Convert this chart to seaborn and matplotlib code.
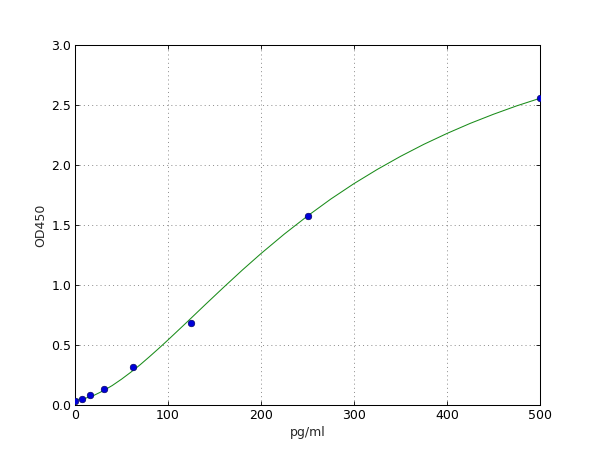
import pandas as pd
import matplotlib
matplotlib.use("Agg")
import matplotlib.pyplot as plt
import seaborn as sns

# standards (pg/ml) and measured OD450
std_conc = [0, 7.8, 15.6, 31.25, 62.5, 125, 250, 500]
std_od = [0.035, 0.048, 0.082, 0.136, 0.318, 0.68, 1.575, 2.556]

# fitted curve
curve_conc = [0, 10, 20, 30, 40, 50, 60, 70, 80, 90, 100, 120, 140, 160, 180,
              200, 225, 250, 275, 300, 325, 350, 375, 400, 425, 450, 475, 500]
curve_od = [0.045, 0.053, 0.079, 0.117, 0.162, 0.215, 0.273, 0.335, 0.402,
            0.471, 0.542, 0.688, 0.836, 0.982, 1.125, 1.262, 1.424, 1.575,
            1.716, 1.845, 1.963, 2.072, 2.172, 2.263, 2.347, 2.423, 2.493,
            2.556]

x_ticks = [0, 100, 200, 300, 400, 500]
y_ticks = [0.0, 0.5, 1.0, 1.5, 2.0, 2.5, 3.0]

sns.set_style("ticks")
plt.rcParams['font.family'] = ['DejaVu Sans']
plt.rcParams['font.size'] = 12
plt.rcParams['xtick.direction'] = 'in'
plt.rcParams['ytick.direction'] = 'in'
plt.rcParams['xtick.top'] = True
plt.rcParams['ytick.right'] = True

curve = pd.DataFrame({"pg/ml": curve_conc, "OD450": curve_od})
points = pd.DataFrame({"pg/ml": std_conc, "OD450": std_od})

fig = plt.figure(figsize=(8, 6), dpi=75)
ax = fig.add_axes([0.125, 0.1, 0.775, 0.8])

sns.lineplot(data=curve, x="pg/ml", y="OD450", color=(0.1, 0.55, 0.1),
             linewidth=1, ax=ax, zorder=2)
sns.scatterplot(data=points, x="pg/ml", y="OD450", color=(0, 0, 0.85),
                edgecolor=(0, 0, 0.35), linewidth=0.6, s=40, ax=ax, zorder=3)

ax.set_xlim(0, 500)
ax.set_ylim(0, 3.0)
ax.set_xticks(x_ticks)
ax.set_yticks(y_ticks)
ax.set_yticklabels([f"{v:.1f}" for v in y_ticks])
ax.tick_params(labelsize=12, length=4, width=0.8, colors='black')
ax.grid(True, linestyle=(0, (2, 6)), color='black', linewidth=0.5, alpha=0.8)
ax.set_xlabel("pg/ml", fontsize=12)
ax.set_ylabel("OD450", fontsize=12)
for sp in ax.spines.values():
    sp.set_visible(True)
    sp.set_color('black')
    sp.set_linewidth(1)

fig.savefig("out.png", dpi=75, facecolor='white')
